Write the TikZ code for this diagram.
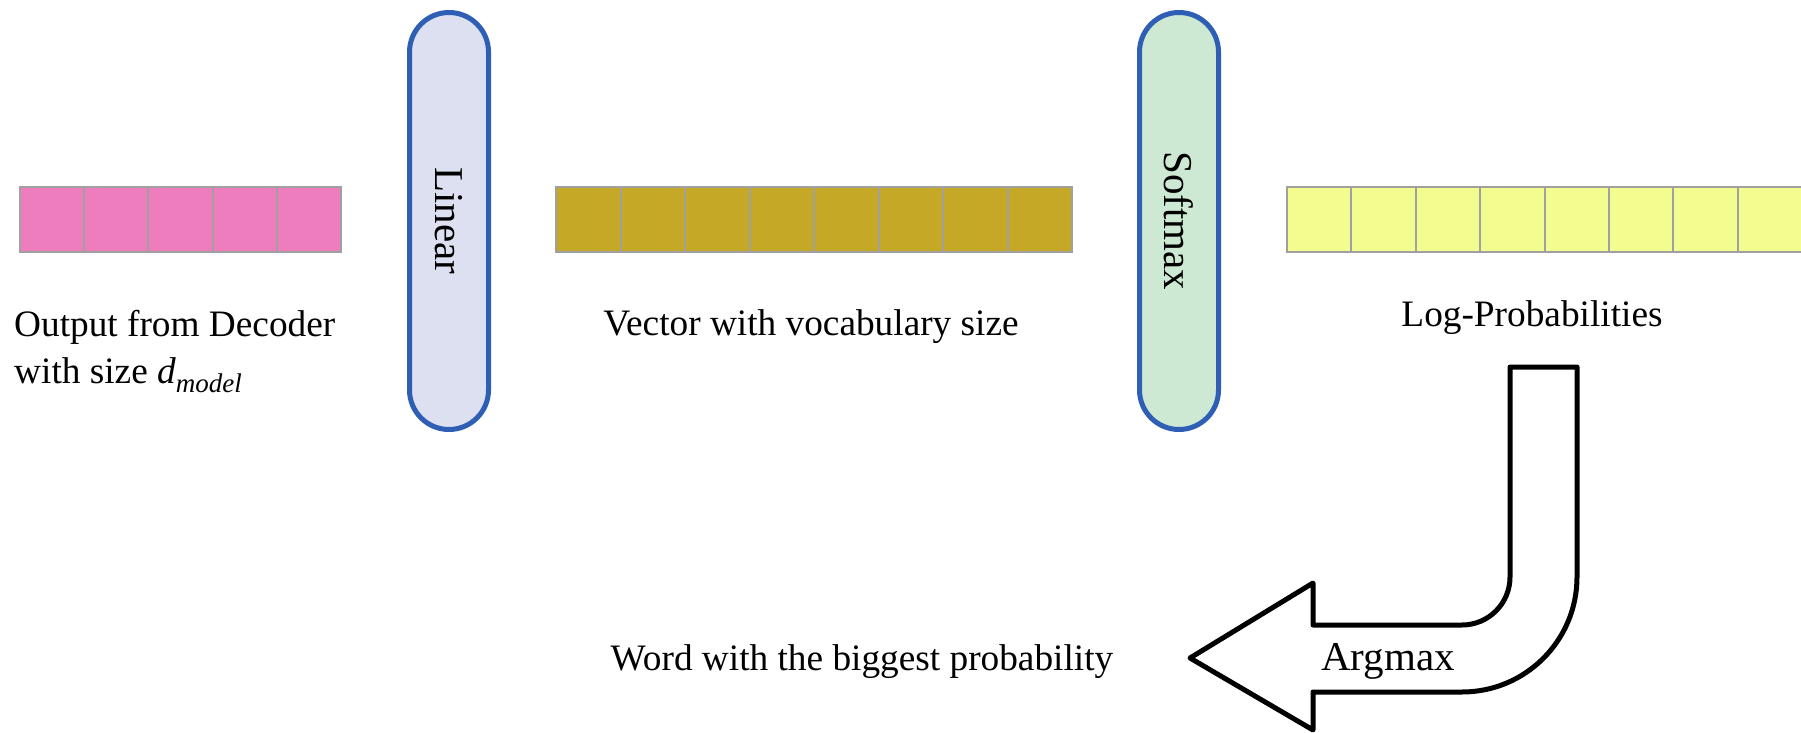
\documentclass[tikz,border=0pt]{standalone}
\usepackage{fontspec}
\setmainfont{Liberation Serif}
\newfontfamily\tnr{Liberation Serif}
\definecolor{pinkc}{HTML}{EE7DBD}
\definecolor{olivec}{HTML}{C4A826}
\definecolor{yellowc}{HTML}{F3FC8E}
\definecolor{cellgray}{HTML}{A0A0A0}
\definecolor{pillblue}{HTML}{2F5FB5}
\definecolor{linfill}{HTML}{DCE0F0}
\definecolor{softfill}{HTML}{CDE8D3}
\newcommand{\dmodel}{\textit{d}\raisebox{-0.22em}{\fontsize{27}{27}\selectfont\textit{model}}}
\begin{document}
\begin{tikzpicture}[x=1pt,y=1pt,
  cell/.style={draw=cellgray, line width=2pt, minimum width=64.4pt, minimum height=65pt, inner sep=0pt},
  pill/.style={draw=pillblue, line width=5pt, rounded corners=39.5pt, minimum width=417pt, minimum height=79pt, inner sep=0pt, rotate=-90, font=\tnr\fontsize{41}{48}\selectfont},
  lbl/.style={font=\tnr\fontsize{37.3}{47}\selectfont, inner sep=0pt},
  bigarrow/.style={draw=black, line width=5pt, line join=round, fill=white}]
\useasboundingbox (0,0) rectangle (1801,-733);
% vectors
\foreach \i in {0,...,4} \node[cell, fill=pinkc] (p\i) at ({52.1+64.2*\i},-219.5) {};
\foreach \i in {0,...,7} \node[cell, fill=olivec] (v\i) at ({588.3+64.5*\i},-219.5) {};
\foreach \i in {0,...,7} \node[cell, fill=yellowc] (y\i) at ({1319.2+64.4*\i},-219.5) {};
% pills
\node[pill, fill=linfill] (linear) at (449,-221) {Linear};
\node[pill, fill=softfill] (softmax) at (1179,-221) {Softmax};
% labels
\node[lbl, anchor=north west, align=left] (outlbl) at (14,-310.5) {Output from Decoder\\with size \dmodel};
\node[lbl, anchor=base] (veclbl) at (811,-335) {Vector with vocabulary size};
\node[lbl, anchor=base] (loglbl) at (1532,-326) {Log-Probabilities};
\node[lbl, anchor=base] (wordlbl) at (862,-670) {Word with the biggest probability};
% bent arrow
\draw[bigarrow] (1510,-367) -- (1577,-367) -- (1577,-577) arc (0:-90:115)
  -- (1313,-692) -- (1313,-730) -- (1190,-658) -- (1313,-583) -- (1313,-625)
  -- (1462,-625) arc (-90:0:48) -- cycle;
\node[lbl, font=\tnr\fontsize{41}{48}\selectfont, anchor=base] (argmax) at (1388,-670) {Argmax};
\end{tikzpicture}
\end{document}
